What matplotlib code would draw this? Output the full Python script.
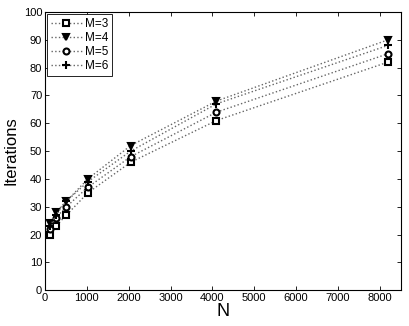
import matplotlib
matplotlib.use("Agg")
import matplotlib.pyplot as plt

N = [128, 256, 512, 1024, 2048, 4096, 8192]
M3 = [20, 23, 27, 35, 46, 61, 82]
M4 = [24, 28, 32, 40, 52, 68, 90]
M5 = [22, 26, 30, 37, 48, 64, 85]
M6 = [23, 27, 32, 39, 50, 67, 88]

LABELS = ["M=3", "M=4", "M=5", "M=6"]
SERIES = [M3, M4, M5, M6]
MARKERS = ["s", "v", "o", "+"]
FACES = ["white", "black", "white", "black"]
SIZES = [3.8, 5, 4.3, 5.5]

plt.rcParams["font.family"] = ["Liberation Sans", "DejaVu Sans"]

fig = plt.figure(figsize=(4.09, 3.26), dpi=100)
ax = fig.add_axes([0.110, 0.110, 0.870, 0.853])

for y, lab, mk, fc, ms in zip(SERIES, LABELS, MARKERS, FACES, SIZES):
    ax.plot(N, y, linestyle=":", color="0.4", linewidth=1.0,
            marker=mk, markersize=ms, markerfacecolor=fc,
            markeredgecolor="black", markeredgewidth=1.5, label=lab)

ax.set_xlim(0, 8500)
ax.set_ylim(0, 100)
ax.set_xticks(range(0, 8001, 1000))
ax.set_yticks(range(0, 101, 10))
ax.tick_params(direction="in", top=True, right=True, labelsize=8,
               length=3, width=0.6, pad=2)
for s in ax.spines.values():
    s.set_linewidth(0.8)

ax.set_xlabel("N", fontsize=13, labelpad=0)
ax.set_ylabel("Iterations", fontsize=12, labelpad=4)

leg = ax.legend(loc="upper left", fontsize=8.5, numpoints=1, handlelength=2.6,
                handletextpad=0.3, borderpad=0.3, labelspacing=0.18,
                borderaxespad=0.2, fancybox=False, framealpha=1)
leg.get_frame().set_edgecolor("black")
leg.get_frame().set_linewidth(0.6)

fig.savefig("out.png", dpi=100)
